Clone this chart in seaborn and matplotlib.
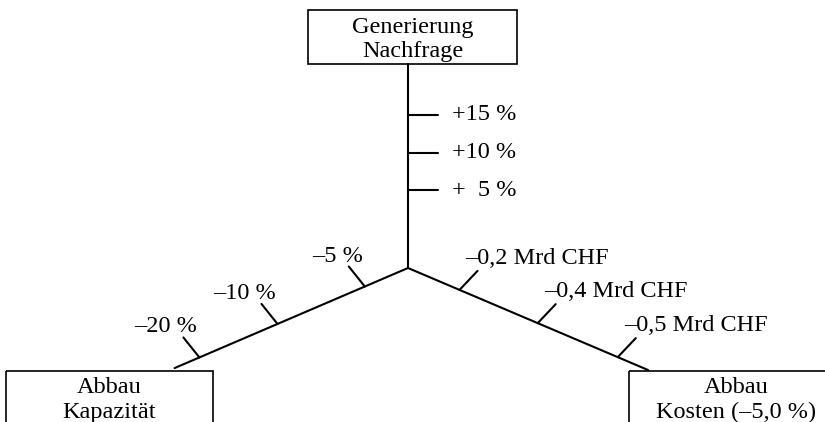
"""Szenario-Diagramm: drei Achsen (Nachfrage, Kapazitaet, Kosten)"""

import numpy as np
import pandas as pd
import matplotlib

matplotlib.use("Agg")
import matplotlib.pyplot as plt
from matplotlib.patches import Rectangle
import seaborn as sns

# --- data -------------------------------------------------------------
box_nachfrage = ["Generierung", "Nachfrage"]
box_kapazitaet = ["Abbau", "Kapazität"]
box_kosten = ["Abbau", "Kosten (–5,0 %)"]

nachfrage_labels = ["+  5 %", "+10 %", "+15 %"]
kapazitaet_labels = ["–5 %", "–10 %", "–20 %"]
kosten_labels = ["–0,2 Mrd CHF", "–0,4 Mrd CHF", "–0,5 Mrd CHF"]

# --- layout (pixel space, y pointing down) ---------------------------
center = np.array([408.0, 268.0])
arms = {
    "nachfrage": dict(direction=(0.0, -1.0), length=204, ticks=[78, 115, 153],
                      tick_vec=(30, 0), labels=nachfrage_labels),
    "kapazitaet": dict(direction=(-0.919, 0.394), length=254, ticks=[47, 142, 227],
                       tick_vec=(-16, -20), labels=kapazitaet_labels),
    "kosten": dict(direction=(0.920, 0.391), length=261, ticks=[56, 141, 228],
                   tick_vec=(18, -19), labels=kosten_labels),
}

sns.set_theme(style="white", rc={"text.color": "black"})
plt.rcParams["font.family"] = ["Liberation Serif", "DejaVu Serif"]

fig = plt.figure(figsize=(8.25, 4.22), dpi=100)
ax = fig.add_axes([0, 0, 1, 1])

# build segments for arms and tick marks
rows = []
seg = 0
for name, arm in arms.items():
    d = np.array(arm["direction"])
    end = center + d * arm["length"]
    rows += [(seg, center[0], center[1]), (seg, end[0], end[1])]
    seg += 1
    for dist in arm["ticks"]:
        base = center + d * dist
        tip = base + np.array(arm["tick_vec"])
        rows += [(seg, base[0], base[1]), (seg, tip[0], tip[1])]
        seg += 1
        arm.setdefault("tips", []).append(tip)

segments = pd.DataFrame(rows, columns=["seg", "x", "y"])
sns.lineplot(data=segments, x="x", y="y", units="seg", estimator=None,
             sort=False, color="black", linewidth=1.5, ax=ax, legend=False)
ax.set_xlim(0, 825)
ax.set_ylim(422, 0)
ax.axis("off")

fs = 17.5
# tick labels
for tip, lab in zip(arms["nachfrage"]["tips"], nachfrage_labels):
    ax.text(tip[0] + 14, tip[1], lab, fontsize=fs, ha="left", va="center")
for tip, lab in zip(arms["kapazitaet"]["tips"], kapazitaet_labels):
    ax.text(tip[0] + 14, tip[1] - 5, lab, fontsize=fs, ha="right", va="baseline")
for tip, lab in zip(arms["kosten"]["tips"], kosten_labels):
    ax.text(tip[0] - 12, tip[1] - 7, lab, fontsize=fs, ha="left", va="baseline")

# boxes
boxes = [
    ((308, 10), 209, 54, 412.5, (33, 57), box_nachfrage),
    ((6, 371), 207, 80, 109.5, (393, 418), box_kapazitaet),
    ((629, 371), 230, 80, 736, (393, 418), box_kosten),
]
for (x0, y0), w, h, cx, ys, lines in boxes:
    ax.add_patch(Rectangle((x0, y0), w, h, fill=False, edgecolor="black",
                           linewidth=1.2, clip_on=True))
    for y, line in zip(ys, lines):
        ax.text(cx, y, line, fontsize=fs, ha="center", va="baseline")

fig.savefig("out.png", dpi=100)
